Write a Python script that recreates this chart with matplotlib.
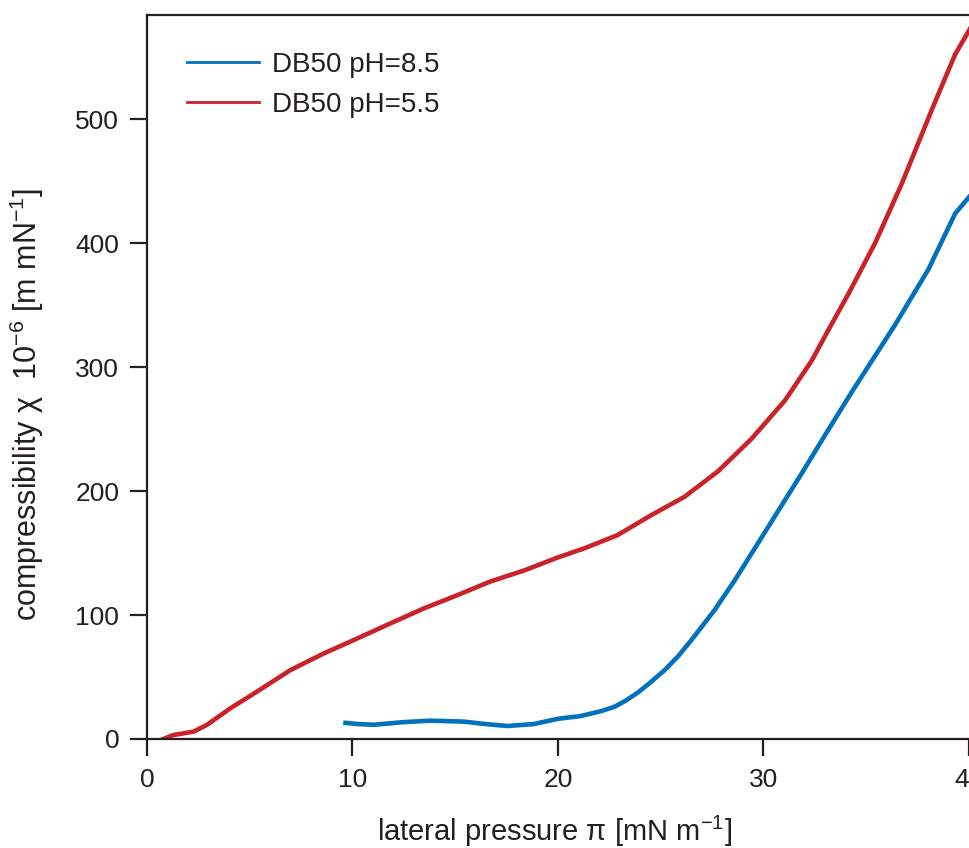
import matplotlib
matplotlib.use("Agg")
import matplotlib.pyplot as plt
from matplotlib.lines import Line2D

# ---- data ----
red_x = [0.65, 1.28, 2.26, 2.91, 4.05, 5.35, 6.98, 8.6, 10.06, 11.85, 13.48, 15.1,
         16.7, 18.36, 20.0, 21.28, 22.9, 24.54, 26.16, 27.79, 29.41, 31.04, 32.34,
         33.16, 34.13, 35.43, 36.73, 38.25, 39.32, 40.05, 40.3]
red_y = [-1, 3.2, 5.9, 11.3, 24.7, 38.2, 55.6, 69, 79.8, 93.3, 105.4, 116,
         127, 136, 146.5, 153.8, 164.5, 180.6, 195.4, 216, 242, 273, 305,
         330, 359, 400, 448, 510, 552, 573, 580]

blue_x = [9.66, 10.3, 11.04, 12.4, 13.8, 15.43, 16.5, 17.54, 18.8, 20.0, 21.1, 22.1,
          22.75, 23.3, 23.89, 24.45, 25.19, 25.86, 26.49, 27.62, 28.6, 30.15, 31.85,
          32.99, 34.3, 36.4, 38.03, 39.33, 40.15]
blue_y = [13, 12, 11.5, 13.5, 14.8, 14, 12, 10.5, 12, 16.3, 18.5, 22.5,
          26, 31, 37.5, 45, 55.6, 67, 79.8, 104, 128, 169, 214,
          245, 280, 334, 379, 424, 440]

series_labels = ["DB50 pH=8.5", "DB50 pH=5.5"]
x_ticks = [0, 10, 20, 30, 40]
y_ticks = [0, 100, 200, 300, 400, 500]

# ---- style ----
INK = "#231F20"
BLUE = "#0071BC"
RED = "#CB2229"
plt.rcParams["font.family"] = ["Liberation Sans", "DejaVu Sans"]
plt.rcParams["mathtext.fontset"] = "custom"
plt.rcParams["mathtext.rm"] = "Liberation Sans"
plt.rcParams["mathtext.it"] = "Liberation Sans:italic"
plt.rcParams["mathtext.default"] = "regular"

fig = plt.figure(figsize=(9.70, 8.48), dpi=100)
W, H = 970, 848
x0_px, y0_px, ytop_px = 147, 739, 15
px_per_x = 20.55
xmax = 42.0
ax_w = xmax * px_per_x
ax_h = y0_px - ytop_px
ax = fig.add_axes([x0_px / W, (H - y0_px) / H, ax_w / W, ax_h / H])

ax.plot(blue_x, blue_y, color=BLUE, lw=3.3, solid_joinstyle="round")
ax.plot(red_x, red_y, color=RED, lw=3.3, solid_joinstyle="round")

ax.set_xlim(0, xmax)
ax.set_ylim(0, 584)
ax.set_xticks(x_ticks)
ax.set_yticks(y_ticks)

for s in ax.spines.values():
    s.set_color(INK)
    s.set_linewidth(1.6)

ax.tick_params(direction="out", length=12, width=1.6, colors=INK,
               labelsize=19, labelcolor=INK)
ax.tick_params(axis="x", pad=9)
ax.tick_params(axis="y", pad=8)

ax.set_xlabel("lateral pressure π [mN m$^{-1}$]", fontsize=21, color=INK)
ax.xaxis.set_label_coords((555 - x0_px) / ax_w, -(814 - y0_px) / ax_h)
ax.set_ylabel("compressibility χ  10$^{-6}$ [m mN$^{-1}$]", fontsize=22, color=INK)
ax.yaxis.set_label_coords(-(147 - 46) / ax_w, (y0_px - 405) / ax_h)

handles = [Line2D([], [], color=BLUE, lw=2.0), Line2D([], [], color=RED, lw=2.0)]
leg = ax.legend(handles, series_labels, loc="upper left",
                bbox_to_anchor=((187 - x0_px) / ax_w, (y0_px - 52) / ax_h),
                frameon=False, fontsize=20, handlelength=2.6, handletextpad=0.45,
                borderpad=0, borderaxespad=0, labelspacing=0.5)
for t in leg.get_texts():
    t.set_color(INK)

fig.savefig("out.png", dpi=100)
